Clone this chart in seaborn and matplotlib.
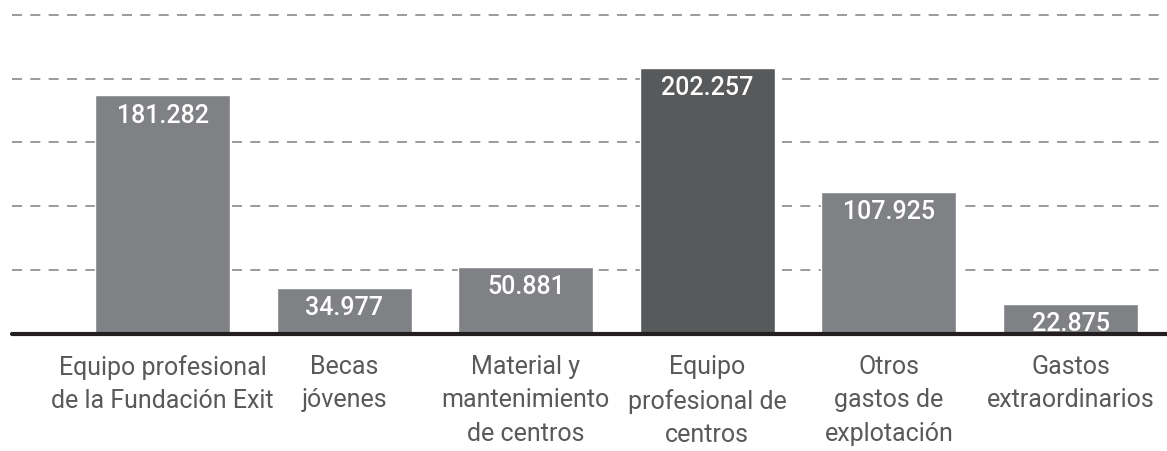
import matplotlib
matplotlib.use('Agg')
import matplotlib.pyplot as plt
import pandas as pd
import seaborn as sns

# Data (thousands of euros, shown with Spanish thousands separator)
categories = [
    'Equipo profesional\nde la Fundación Exit',
    'Becas\njóvenes',
    'Material y\nmantenimiento\nde centros',
    'Equipo\nprofesional de\ncentros',
    'Otros\ngastos de\nexplotación',
    'Gastos\nextraordinarios',
]
values = [181.282, 34.977, 50.881, 202.257, 107.925, 22.875]
value_labels = ['181.282', '34.977', '50.881', '202.257', '107.925', '22.875']
bar_colors = ['#808184', '#808184', '#808184', '#58595b', '#808184', '#808184']
grid_levels = [48.5, 97, 145.5, 194, 242.5]

df = pd.DataFrame({'category': categories, 'value': values})

sns.set_theme(style='white')
plt.rcParams['font.family'] = ['Roboto', 'DejaVu Sans']

fig = plt.figure(figsize=(11.67, 4.51), dpi=100)
ax = fig.add_axes([12 / 1167, 117 / 451, 1155 / 1167, 320 / 451])

# dashed guide lines behind the bars
for lvl in grid_levels:
    ax.axhline(lvl, color='#8a8a8a', linewidth=1.2, linestyle=(0, (6, 5)), zorder=0)

sns.barplot(
    data=df,
    x='category',
    y='value',
    hue='category',
    palette=bar_colors,
    legend=False,
    width=0.743,
    saturation=1,
    ax=ax,
    zorder=2,
)

for i, (v, lab) in enumerate(zip(values, value_labels)):
    ax.annotate(lab, (i, v), xytext=(0, -6), textcoords='offset points',
                ha='center', va='top', color='white', fontsize=18,
                fontweight='medium', zorder=3)

ax.axhline(0, color='#231f20', linewidth=3, zorder=4, clip_on=False)

ax.set_xlim(-0.829, 5.531)
ax.set_ylim(0, 243)
ax.set_xlabel('')
ax.set_ylabel('')
ax.set_yticks([])
ax.tick_params(axis='x', length=0, pad=15, labelsize=18, labelcolor='#58595b')
for t in ax.get_xticklabels():
    t.set_linespacing(1.5)
for s in ax.spines.values():
    s.set_visible(False)

fig.savefig('out.png', dpi=100)
